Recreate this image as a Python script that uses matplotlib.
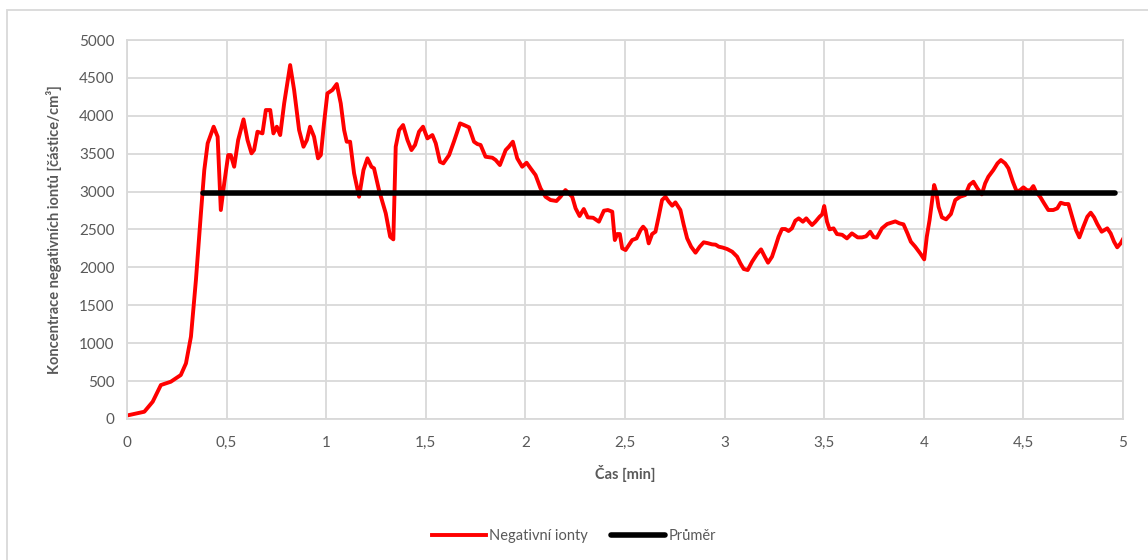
import matplotlib.pyplot as plt
from matplotlib.patches import Rectangle
from matplotlib.ticker import FuncFormatter, MultipleLocator

plt.rcParams["font.family"] = ["Lato", "DejaVu Sans"]

# Negative ion concentration (time in min)
cas = [
    0.012, 0.087, 0.129, 0.17, 0.22, 0.27, 0.296, 0.321, 0.346, 0.371,
    0.388, 0.405, 0.435, 0.455, 0.471, 0.488, 0.508, 0.521, 0.538, 0.558,
    0.585, 0.605, 0.625, 0.638, 0.655, 0.68, 0.697, 0.719, 0.735, 0.752,
    0.769, 0.789, 0.819, 0.839, 0.864, 0.886, 0.903, 0.919, 0.939, 0.959,
    0.973, 0.989, 1.006, 1.031, 1.053, 1.073, 1.09, 1.103, 1.12, 1.14,
    1.165, 1.187, 1.207, 1.227, 1.24, 1.265, 1.299, 1.321, 1.337, 1.349,
    1.366, 1.386, 1.408, 1.428, 1.446, 1.466, 1.486, 1.508, 1.533, 1.55,
    1.571, 1.588, 1.617, 1.641, 1.672, 1.692, 1.717, 1.742, 1.759, 1.775,
    1.80, 1.834, 1.851, 1.872, 1.901, 1.917, 1.937, 1.959, 1.984, 2.006,
    2.026, 2.051, 2.076, 2.101, 2.126, 2.156, 2.176, 2.201, 2.218, 2.235,
    2.252, 2.272, 2.293, 2.313, 2.34, 2.369, 2.394, 2.414, 2.436, 2.449,
    2.461, 2.474, 2.486, 2.503, 2.536, 2.558, 2.578, 2.591, 2.605, 2.619,
    2.636, 2.653, 2.669, 2.686, 2.703, 2.72, 2.737, 2.753, 2.778, 2.795,
    2.812, 2.832, 2.854, 2.875, 2.895, 2.915, 2.937, 2.955, 2.971, 2.99,
    3.013, 3.038, 3.063, 3.079, 3.096, 3.116, 3.138, 3.163, 3.183, 3.2,
    3.218, 3.238, 3.255, 3.271, 3.288, 3.305, 3.321, 3.338, 3.355, 3.372,
    3.393, 3.41, 3.425, 3.439, 3.455, 3.477, 3.49, 3.50, 3.514, 3.527,
    3.547, 3.564, 3.59, 3.614, 3.639, 3.668, 3.69, 3.71, 3.731, 3.748,
    3.764, 3.79, 3.816, 3.857, 3.878, 3.898, 3.918, 3.935, 3.957, 3.982,
    4.002, 4.015, 4.029, 4.04, 4.052, 4.062, 4.074, 4.091, 4.112, 4.136,
    4.158, 4.182, 4.208, 4.229, 4.249, 4.269, 4.291, 4.308, 4.324, 4.349,
    4.37, 4.387, 4.408, 4.425, 4.447, 4.467, 4.484, 4.5, 4.517, 4.534,
    4.55, 4.563, 4.584, 4.604, 4.625, 4.65, 4.67, 4.687, 4.708, 4.726,
    4.742, 4.764, 4.781, 4.801, 4.821, 4.838, 4.855, 4.871, 4.893, 4.921,
    4.938, 4.955, 4.971, 4.988, 5.0,
]
ionty = [
    53, 96, 228, 448, 492, 580, 734, 1086, 1833, 2713,
    3284, 3637, 3856, 3724, 2757, 3109, 3482, 3482, 3328, 3680,
    3953, 3680, 3505, 3549, 3790, 3768, 4076, 4076, 3768, 3856,
    3746, 4164, 4669, 4340, 3812, 3592, 3680, 3856, 3724, 3439,
    3482, 3900, 4296, 4340, 4419, 4164, 3812, 3658, 3658, 3241,
    2932, 3284, 3439, 3328, 3307, 3020, 2713, 2405, 2370, 3592,
    3812, 3878, 3680, 3548, 3615, 3790, 3856, 3702, 3746, 3637,
    3394, 3373, 3482, 3658, 3900, 3878, 3848, 3658, 3627, 3615,
    3460, 3447, 3416, 3350, 3548, 3592, 3658, 3439, 3328, 3381,
    3307, 3218, 3043, 2932, 2889, 2876, 2932, 3020, 2977, 2932,
    2779, 2678, 2770, 2660, 2655, 2603, 2748, 2757, 2735, 2361,
    2440, 2440, 2252, 2229, 2361, 2383, 2493, 2537, 2493, 2317,
    2440, 2471, 2669, 2889, 2932, 2866, 2814, 2858, 2757, 2559,
    2383, 2273, 2194, 2273, 2331, 2320, 2304, 2300, 2273, 2262,
    2242, 2207, 2141, 2054, 1979, 1965, 2075, 2176, 2238, 2150,
    2062, 2141, 2273, 2405, 2506, 2506, 2480, 2515, 2616, 2647,
    2603, 2647, 2600, 2559, 2600, 2669, 2700, 2810, 2603, 2502,
    2515, 2440, 2430, 2383, 2449, 2396, 2396, 2410, 2471, 2400,
    2392, 2515, 2572, 2607, 2581, 2568, 2449, 2339, 2273, 2185,
    2106, 2405, 2625, 2845, 3087, 3000, 2800, 2660, 2634, 2704,
    2889, 2932, 2955, 3087, 3130, 3043, 2964, 3109, 3196, 3284,
    3373, 3416, 3373, 3307, 3130, 2998, 3020, 3056, 3020, 3015,
    3073, 2998, 2932, 2845, 2757, 2757, 2779, 2853, 2836, 2836,
    2691, 2493, 2396, 2537, 2669, 2722, 2660, 2572, 2471, 2515,
    2449, 2339, 2265, 2317, 2373,
]

# Average line
prumer_cas = [0.38, 4.96]
prumer = [2975, 2975]

xticks = [0, 0.5, 1, 1.5, 2, 2.5, 3, 3.5, 4, 4.5, 5]

TEXT = "#595959"
GRID = "#d9d9d9"

fig = plt.figure(figsize=(11.48, 5.6), dpi=100)
ax = fig.add_axes([127 / 1148, 1 - 419 / 560, (1123 - 127) / 1148, (419 - 40) / 560])

# outer chart border (Excel style)
fig.patches.append(
    Rectangle((7 / 1148, -0.1), 1.2, 1 - 10 / 560 + 0.1, transform=fig.transFigure,
              fill=False, edgecolor=GRID, linewidth=1.3)
)

ax.plot(cas, ionty, color="#ff0000", linewidth=2.8, label="Negativní ionty",
        solid_joinstyle="round")
ax.plot(prumer_cas, prumer, color="black", linewidth=4, label="Průměr",
        solid_capstyle="round")

ax.set_xlim(0, 5)
ax.set_ylim(0, 5000)
ax.set_xticks(xticks)
ax.xaxis.set_major_formatter(FuncFormatter(lambda v, p: f"{v:g}".replace(".", ",")))
ax.yaxis.set_major_locator(MultipleLocator(500))

ax.grid(True, color=GRID, linewidth=1.3)
ax.set_axisbelow(True)
for s in ax.spines.values():
    s.set_color(GRID)
    s.set_linewidth(1.3)
ax.tick_params(length=0, labelsize=11, colors=TEXT)
ax.tick_params(axis="x", pad=12)
ax.tick_params(axis="y", pad=9)

ax.set_xlabel("Čas [min]", fontsize=10.5, fontweight="bold", color=TEXT, labelpad=11)
ax.set_ylabel("Koncentrace negativních iontů [částice/cm³]", fontsize=10.5,
              fontweight="bold", color=TEXT, labelpad=12)

leg = fig.legend(loc="center", bbox_to_anchor=(0.5, 1 - 536 / 560), ncol=2,
                 frameon=False, fontsize=10.5, handlelength=3.7, columnspacing=1.6,
                 handletextpad=0.25)
for t in leg.get_texts():
    t.set_color(TEXT)

plt.savefig("out.png", dpi=100)
